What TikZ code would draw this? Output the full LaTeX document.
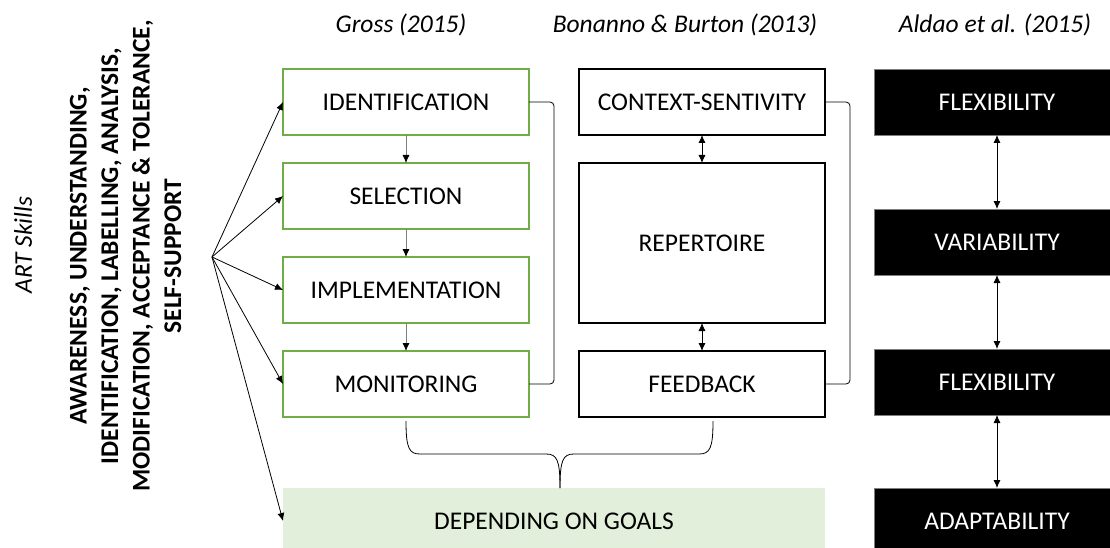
\documentclass[tikz,border=0pt]{standalone}
\usepackage{fontspec}
\setmainfont{Carlito}
\usetikzlibrary{arrows.meta}
\definecolor{ggreen}{HTML}{70AD47}
\definecolor{lgreen}{HTML}{E2EFDA}
\definecolor{lgray}{HTML}{7F7F7F}
\tikzset{
  txt/.style={font=\fontsize{25.5}{31}\selectfont},
  grossbox/.style={txt, draw=ggreen, line width=1.2pt, fill=white, minimum width=246pt, minimum height=66pt, inner sep=0pt, outer sep=0pt},
  bbox/.style={txt, draw=black, line width=1.2pt, fill=white, minimum width=246pt, minimum height=66pt, inner sep=0pt, outer sep=0pt},
  blackbox/.style={txt, draw=lgray, line width=0.8pt, fill=black, text=white, minimum width=246pt, minimum height=66pt, inner sep=0pt, outer sep=0pt},
  tip/.style={-{Latex[length=8pt,width=7pt]}},
  dtip/.style={{Latex[length=8pt,width=7pt]}-{Latex[length=8pt,width=7pt]}},
  conn/.style={line width=0.8pt, black},
  title/.style={txt, font=\fontsize{25.5}{31}\selectfont\itshape},
}
\begin{document}
\begin{tikzpicture}[x=1pt,y=-1pt]
\useasboundingbox (0,0) rectangle (1110,548);
\begin{scope}
\clip (0,0) rectangle (1110,548);
% titles
\node[title] (t1) at (401,25) {Gross (2015)};
\node[title] (t2) at (685,25) {Bonanno \& Burton (2013)};
\node[title] (t3) at (995,25) {Aldao et al. (2015)};
% left texts
\node[title, rotate=90] (art) at (23,245) {ART Skills};
\node[txt, font=\fontsize{25.5}{31.5}\selectfont\bfseries, rotate=90, align=center] (skills) at (125.5,256)
  {AWARENESS, UNDERSTANDING,\\IDENTIFICATION, LABELLING, ANALYSIS,\\MODIFICATION, ACCEPTANCE \& TOLERANCE,\\SELF-SUPPORT};
% Gross column
\node[grossbox] (id) at (406,102) {IDENTIFICATION};
\node[grossbox] (sel) at (406,196) {SELECTION};
\node[grossbox] (imp) at (406,290) {IMPLEMENTATION};
\node[grossbox] (mon) at (406,384) {MONITORING};
% Bonanno column
\node[bbox] (ctx) at (702,102) {CONTEXT-SENTIVITY};
\node[bbox, minimum height=160pt] (rep) at (702,243) {REPERTOIRE};
\node[bbox] (fb) at (702,384) {FEEDBACK};
% Aldao column
\node[blackbox] (a1) at (997,102) {FLEXIBILITY};
\node[blackbox] (a2) at (997,242) {VARIABILITY};
\node[blackbox] (a3) at (997,382) {FLEXIBILITY};
\node[blackbox] (a4) at (997,521) {ADAPTABILITY};
% goals
\node[txt, fill=lgreen, minimum width=542pt, minimum height=66pt, inner sep=0pt, outer sep=0pt] (dep) at (554,521) {DEPENDING ON GOALS};
% fan arrows
\coordinate (fan) at (212,257);
\draw[conn, tip] (fan) -- (id.west);
\draw[conn, tip] (fan) -- (sel.west);
\draw[conn, tip] (fan) -- (imp.west);
\draw[conn, tip] (fan) -- (mon.west);
\draw[conn, tip] (fan) -- (dep.west);
% Gross flow
\draw[line width=0.8pt, lgray, -{Latex[length=8pt,width=7pt,fill=black,color=black]}] (id.south) -- (sel.north);
\draw[line width=0.8pt, lgray, -{Latex[length=8pt,width=7pt,fill=black,color=black]}] (sel.south) -- (imp.north);
\draw[line width=0.8pt, lgray, -{Latex[length=8pt,width=7pt,fill=black,color=black]}] (imp.south) -- (mon.north);
% Bonanno double arrows
\draw[conn, dtip] (ctx.south) -- (rep.north);
\draw[conn, dtip] (rep.south) -- (fb.north);
% Aldao double arrows
\draw[conn, dtip] (a1.south) -- (a2.north);
\draw[conn, dtip] (a2.south) -- (a3.north);
\draw[conn, dtip] (a3.south) -- (a4.north);
% brackets
\draw[conn, rounded corners=4pt] (id.east) -- ++(25,0) |- (mon.east);
\draw[conn, rounded corners=4pt] (ctx.east) -- ++(25,0) |- (fb.east);
% brace
\coordinate (bl) at (406,421);
\coordinate (br) at (713,421);
\coordinate (bt) at (560,488);
\draw[conn] (bl) .. controls (406,448) and (409,454) .. (420,454) -- (546,454)
  .. controls (557,454) and (560,460) .. (bt);
\draw[conn] (br) .. controls (713,448) and (710,454) .. (699,454) -- (574,454)
  .. controls (563,454) and (560,460) .. (bt);
\end{scope}
\end{tikzpicture}
\end{document}
